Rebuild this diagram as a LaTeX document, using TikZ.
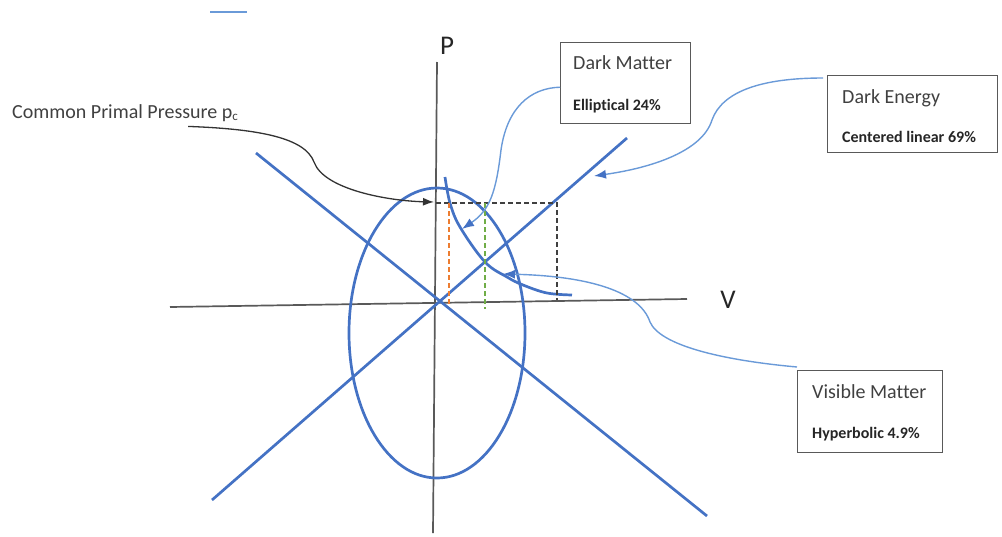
\documentclass[tikz,border=0pt]{standalone}
\usepackage{fontspec}
\setmainfont{Carlito}[Ligatures=NoCommon]
\usetikzlibrary{arrows.meta}
\definecolor{mainblue}{HTML}{4472C4}
\definecolor{connblue}{HTML}{6A9AD8}
\definecolor{axisgray}{HTML}{595959}
\definecolor{txtgray}{HTML}{404040}
\definecolor{dashorange}{HTML}{ED7D31}
\definecolor{dashgreen}{HTML}{70AD47}
\begin{document}
\begin{tikzpicture}[x=1pt,y=-1pt,
  boxstyle/.style={draw=axisgray, line width=1.4pt, fill=none, inner sep=0pt},
  lbl/.style={anchor=base west, inner sep=0pt, text=txtgray, font=\fontsize{20}{24}\selectfont},
  blbl/.style={anchor=base west, inner sep=0pt, text=black!85, font=\bfseries\fontsize{16}{19}\selectfont},
  axlbl/.style={anchor=base, inner sep=0pt, text=black!85, font=\fontsize{27}{30}\selectfont},
  axisline/.style={draw=axisgray, line width=1.7pt},
  curveline/.style={draw=mainblue, line width=2.7pt},
  conn/.style={draw=connblue, line width=1.4pt, -{Latex[length=12pt,width=9pt,color=mainblue]}},
  blkconn/.style={draw=black!80, line width=1.3pt, -{Latex[length=11pt,width=8pt]}},
  dashblk/.style={draw=black!75, line width=1.5pt, dash pattern=on 5pt off 3pt},
  dashor/.style={draw=dashorange, line width=1.5pt, dash pattern=on 5pt off 3pt},
  dashgr/.style={draw=dashgreen, line width=1.5pt, dash pattern=on 5pt off 3pt}]
\useasboundingbox (0,0) rectangle (1002,536);

% short blue line at top
\draw[draw=connblue, line width=1.8pt] (210,12) -- (247,12);

% axes
\draw[axisline] (437,62) -- (433,533);
\draw[axisline] (170,307) -- (687,299);
\node[axlbl] (plbl) at (447,54) {P};
\node[axlbl] (vlbl) at (728,308) {V};

% blue lines
\draw[curveline] (256,153) -- (707,516);
\draw[curveline] (212,500) -- (627,138);
% ellipse
\draw[curveline] (437,333) ellipse [x radius=88, y radius=145];
% hyperbola
\draw[curveline] plot[smooth, tension=0.6] coordinates {(445,177) (450,203) (460,227) (485,262) (507,277) (523,285) (547,293) (572,295)};

% dashed lines
\draw[dashblk] (436,203) -- (557,203) -- (557,300);
\draw[dashor] (449,203) -- (449,306);
\draw[dashgr] (485,203) -- (485,309);

% boxes
\node[boxstyle, minimum width=130pt, minimum height=81pt, anchor=north west] (dm) at (560,42) {};
\node[boxstyle, minimum width=170pt, minimum height=77pt, anchor=north west] (de) at (827,75) {};
\node[boxstyle, minimum width=145pt, minimum height=82pt, anchor=north west] (vm) at (797,370) {};

\node[lbl] (dmt) at (573,69) {Dark Matter};
\node[blbl] (dmb) at (573,110) {Elliptical 24\%};
\node[lbl] (det) at (842,103) {Dark Energy};
\node[blbl] (deb) at (842,142) {Centered linear 69\%};
\node[lbl] (vmt) at (812,398) {Visible Matter};
\node[blbl] (vmb) at (812,438) {Hyperbolic 4.9\%};
\node[lbl] (cp) at (12,118) {Common Primal Pressure p\raisebox{-0.3ex}{\fontsize{13}{13}\selectfont c}};

% arrow tips
\coordinate (dmtip) at (462,229);
\coordinate (detip) at (594,176);
\coordinate (vmtip) at (503,274);
\coordinate (cptip) at (434,202);

% connectors
\draw[conn] ([yshift=-4pt]dm.west) .. controls (530,88) and (507,108) .. (501,150) .. controls (496,192) and (490,210) .. (dmtip);
\draw[conn] ([xshift=-4pt,yshift=-3pt]de.north west) .. controls (760,78) and (722,92) .. (712,120) .. controls (702,152) and (650,168) .. (detip);
\draw[conn] ([yshift=3pt]vm.north west) .. controls (720,360) and (660,345) .. (650,322) .. controls (640,292) and (590,276) .. (vmtip);
\draw[blkconn] ([xshift=-50pt,yshift=-5pt]cp.south east) .. controls (260,129) and (305,138) .. (314,162) .. controls (324,190) and (390,201) .. (cptip);
\end{tikzpicture}
\end{document}
